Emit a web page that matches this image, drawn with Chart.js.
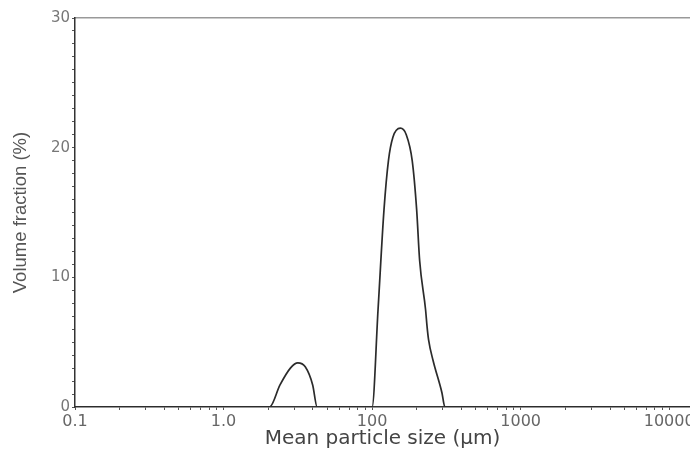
<!DOCTYPE html>
<html>
<head>
<meta charset="utf-8">
<script src="https://cdn.jsdelivr.net/npm/chart.js@4/dist/chart.umd.min.js"></script>
<style>
  html, body { margin: 0; padding: 0; background: #fff; }
  #wrap { width: 690px; height: 451px; }
</style>
</head>
<body>
<div id="wrap"><canvas id="psdChart"></canvas></div>
<script>
// position along the x axis in decades (0 = first tick "0.1")
const sizePos = [0, 1.0, 1.31, 1.38, 1.45, 1.50, 1.55, 1.60, 1.63, 2.0, 2.04, 2.08, 2.11, 2.14, 2.19, 2.23, 2.27, 2.30, 2.32, 2.36, 2.37, 2.38, 2.41, 2.47, 2.49, 3.0, 4.2];
const volumeFraction = [0, 0, 0, 1.7, 3.0, 3.4, 3.1, 1.7, 0, 0, 7.5, 15.2, 19.0, 20.8, 21.5, 21.0, 19.0, 15.2, 11.3, 7.5, 6.2, 5.2, 3.6, 1.1, 0, 0, 0];
const xTickLabels = ['0.1', '1.0', '100', '1000', '10000'];
const yTickLabels = [0, 10, 20, 30];

const points = sizePos.map((p, i) => ({ x: p, y: volumeFraction[i] }));

const ctx = document.getElementById('psdChart').getContext('2d');
const psdChart = new Chart(ctx, {
    type: 'line',
    data: {
        datasets: [{
            label: 'Volume fraction',
            data: points,
            borderColor: '#2b2b2b',
            borderWidth: 1.7,
            pointRadius: 0,
            fill: false,
            cubicInterpolationMode: 'monotone'
        }]
    },
    options: {
        responsive: true,
        maintainAspectRatio: false,
        animation: false,
        layout: {
            padding: { top: 18, right: 0, bottom: 0, left: 0 }
        },
        plugins: {
            legend: { display: false },
            tooltip: { enabled: false }
        },
        scales: {
            x: {
                type: 'linear',
                min: 0,
                max: 4.14,
                afterBuildTicks: function(scale) {
                    const ticks = [];
                    for (let d = 0; d < xTickLabels.length; d++) {
                        for (let k = 1; k <= 9; k++) {
                            const v = d + Math.log10(k);
                            if (v <= scale.max) ticks.push({ value: v });
                        }
                    }
                    scale.ticks = ticks;
                },
                afterFit: function(scale) {
                    scale.height = 44;
                    scale.paddingRight = 0; // let "10000" run off the edge like the original
                },
                border: { display: true, color: '#333', width: 1.5 },
                grid: { drawOnChartArea: false, tickLength: 3, color: '#555' },
                ticks: {
                    autoSkip: false,
                    maxRotation: 0,
                    padding: 2,
                    color: '#666',
                    font: { family: 'DejaVu Sans', size: 16 },
                    callback: function(value) {
                        const r = Math.round(value);
                        if (Math.abs(value - r) < 1e-6 && xTickLabels[r] !== undefined) return xTickLabels[r];
                        return '';
                    }
                },
                title: {
                    display: true,
                    text: 'Mean particle size (µm)',
                    color: '#444',
                    padding: { top: 0, bottom: 0 },
                    font: { family: 'DejaVu Sans', size: 20 }
                }
            },
            xTop: {
                type: 'linear',
                position: 'top',
                min: 0,
                max: 4.14,
                afterFit: function(scale) { scale.height = 0; },
                border: { display: true, color: '#999', width: 1.5 },
                grid: { display: false },
                ticks: { display: false }
            },
            y: {
                min: 0,
                max: 30,
                afterFit: function(scale) { scale.width = 75; },
                border: { display: true, color: '#333', width: 1.5 },
                grid: { drawOnChartArea: false, tickLength: 3, color: '#555' },
                ticks: {
                    stepSize: 1,
                    autoSkip: false,
                    padding: 2,
                    color: '#777',
                    font: { family: 'DejaVu Sans', size: 15 },
                    callback: function(value) {
                        return yTickLabels.includes(value) ? String(value) : '';
                    }
                },
                title: {
                    display: true,
                    text: 'Volume fraction (%)',
                    color: '#555',
                    padding: { top: 10, bottom: 0 },
                    font: { family: 'Liberation Sans', size: 18.5 }
                }
            }
        }
    }
});
</script>
</body>
</html>
